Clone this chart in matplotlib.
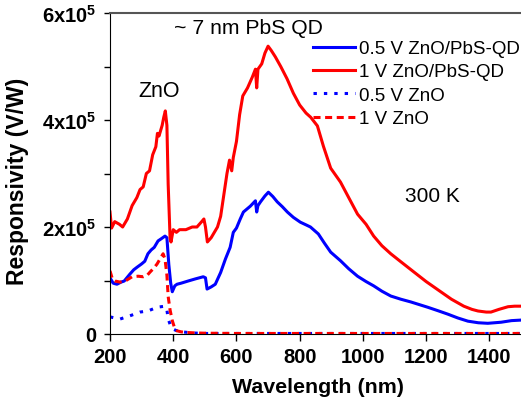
import numpy as np
import matplotlib.pyplot as plt
from matplotlib.ticker import FixedLocator, MultipleLocator

plt.rcParams['font.family'] = ['Liberation Sans', 'DejaVu Sans']
plt.rcParams['mathtext.fontset'] = 'custom'
plt.rcParams['mathtext.rm'] = 'Liberation Sans'
plt.rcParams['mathtext.bf'] = 'Liberation Sans:bold'

# 1 V ZnO/PbS-QD (units of 1e5 V/W)
wl_red = [200, 205, 215, 230, 240, 255, 270, 285, 295, 305, 315, 325, 335, 345, 350, 355, 360,
          365, 370, 375, 380, 384, 390, 393, 400, 410, 420, 440, 460, 475, 490, 497, 502, 508,
          520, 540, 550, 560, 570, 578, 585, 590, 600, 610, 620, 635, 650, 660, 664, 668, 680,
          690, 700, 710, 723, 740, 760, 780, 800, 820, 835, 856, 875, 898, 929, 955, 983, 1010,
          1034, 1060, 1088, 1120, 1161, 1200, 1246, 1280, 1319, 1345, 1364, 1390, 1405, 1430,
          1459, 1480, 1500]
r_red = [2.28, 1.98, 2.1, 2.05, 2.0, 2.15, 2.4, 2.55, 2.7, 2.75, 3.0, 3.05, 3.35, 3.5, 3.75, 3.7,
         3.8, 3.9, 4.05, 4.17, 3.9, 2.8, 1.8, 1.72, 1.95, 1.9, 1.95, 1.95, 2.0, 2.0, 2.1, 2.15,
         2.0, 1.72, 1.8, 2.0, 2.2, 2.6, 3.0, 3.25, 3.05, 3.3, 3.6, 4.1, 4.45, 4.6, 4.8, 4.95, 4.6,
         4.95, 5.05, 5.25, 5.38, 5.3, 5.18, 5.0, 4.77, 4.5, 4.28, 4.13, 4.05, 3.89, 3.51, 3.1,
         2.84, 2.55, 2.24, 2.05, 1.83, 1.65, 1.5, 1.35, 1.16, 0.98, 0.79, 0.65, 0.52, 0.46, 0.43,
         0.41, 0.41, 0.46, 0.51, 0.52, 0.52]

# 0.5 V ZnO/PbS-QD
wl_blue = [200, 210, 222, 235, 245, 263, 275, 286, 300, 310, 320, 330, 340, 352, 362, 374, 380,
           386, 392, 397, 405, 412, 425, 447, 470, 495, 502, 507, 520, 533, 550, 565, 580, 590,
           600, 612, 622, 634, 644, 660, 664, 668, 676, 690, 701, 715, 729, 745, 761, 780, 802,
           820, 834, 859, 878, 898, 929, 955, 983, 1010, 1034, 1060, 1088, 1120, 1151, 1205,
           1240, 1269, 1300, 1332, 1365, 1395, 1437, 1470, 1500]
r_blue = [1.05, 0.95, 0.93, 0.97, 0.99, 1.12, 1.2, 1.25, 1.31, 1.36, 1.5, 1.57, 1.62, 1.74, 1.78,
          1.83, 1.8, 1.3, 0.95, 0.79, 0.9, 0.93, 0.95, 0.99, 1.03, 1.07, 1.05, 0.84, 0.88, 0.93,
          1.15, 1.4, 1.62, 1.9, 1.98, 2.15, 2.28, 2.34, 2.39, 2.49, 2.28, 2.4, 2.47, 2.58, 2.65,
          2.57, 2.47, 2.38, 2.28, 2.18, 2.09, 2.04, 2.0, 1.87, 1.7, 1.53, 1.37, 1.22, 1.08, 0.98,
          0.9, 0.8, 0.71, 0.65, 0.6, 0.5, 0.43, 0.37, 0.3, 0.24, 0.21, 0.2, 0.22, 0.25, 0.26]

# 1 V ZnO
wl_red_zno = [200, 208, 216, 232, 248, 270, 289, 305, 318, 327, 340, 349, 360, 368, 374, 380,
              384, 390, 397, 405, 412, 425, 438, 470, 500, 600, 800, 1000, 1200, 1500]
r_red_zno = [1.18, 1.02, 0.99, 0.97, 0.99, 1.07, 1.08, 1.07, 1.1, 1.16, 1.24, 1.31, 1.42, 1.5,
             1.4, 1.1, 0.7, 0.45, 0.25, 0.1, 0.06, 0.04, 0.03, 0.02, 0.015, 0.01, 0.01, 0.01,
             0.01, 0.01]

# 0.5 V ZnO
wl_blue_zno = [200, 215, 232, 263, 295, 320, 349, 374, 380, 384, 392, 400, 415, 428, 460, 500,
               700, 1000, 1500]
r_blue_zno = [0.32, 0.3, 0.28, 0.34, 0.41, 0.43, 0.5, 0.52, 0.45, 0.28, 0.15, 0.09, 0.05, 0.04,
              0.02, 0.01, 0.01, 0.01, 0.01]

fig = plt.figure(figsize=(5.21, 4.02), dpi=100)
ax = fig.add_axes([110 / 521, 1 - 335 / 402, 411 / 521, 321 / 402])

ax.plot(wl_blue, np.array(r_blue) * 1e5, color='#0000ff', lw=2.2, label='0.5 V ZnO/PbS-QD')
ax.plot(wl_red, np.array(r_red) * 1e5, color='#ff0000', lw=2.2, label='1 V ZnO/PbS-QD')
ax.plot(wl_blue_zno, np.array(r_blue_zno) * 1e5, color='#0000ff', lw=2.2,
        ls=(0, (1.1, 2.3)), label='0.5 V ZnO')
ax.plot(wl_red_zno, np.array(r_red_zno) * 1e5, color='#ff0000', lw=2.2,
        ls=(0, (2.3, 1.5)), label='1 V ZnO')

ax.set_xlim(200, 1500)
ax.set_ylim(0, 6e5)
ax.xaxis.set_major_locator(MultipleLocator(200))
ax.yaxis.set_major_locator(FixedLocator([0, 2e5, 4e5, 6e5]))
ax.yaxis.set_minor_locator(FixedLocator([1e5, 3e5, 5e5]))
ax.set_yticklabels(['0', r'2x10$^\mathbf{5}$', r'4x10$^\mathbf{5}$', r'6x10$^\mathbf{5}$'])
ax.tick_params(which='both', direction='out', width=1, labelsize=14.5)
ax.tick_params(axis='x', which='major', length=5, pad=4.5)
ax.tick_params(axis='y', which='both', length=4, pad=6)
for lab in ax.get_xticklabels() + ax.get_yticklabels():
    lab.set_fontweight('bold')

ax.spines['right'].set_visible(False)
ax.spines['top'].set_color('#555555')
ax.spines['top'].set_linewidth(1.5)

ax.set_xlabel('Wavelength (nm)', fontsize=15.4, fontweight='bold')
ax.set_ylabel('Responsivity (V/W)', fontsize=16.5, fontweight='bold')
ax.xaxis.set_label_coords(0.505, -0.134)
ax.yaxis.set_label_coords(-0.197, 0.48)

ax.text(638, 5.72e5, '~ 7 nm PbS QD', fontsize=15.2, ha='center', va='center')
ax.text(355, 4.56e5, 'ZnO', fontsize=15.5, ha='center', va='center')
ax.text(1221, 2.58e5, '300 K', fontsize=15, ha='center', va='center')

ax.legend(loc='upper left', bbox_to_anchor=(313 / 521, 1 - 41 / 402),
          bbox_transform=fig.transFigure, frameon=False, fontsize=13.5,
          handlelength=2.24, handletextpad=0.21, labelspacing=0.33,
          borderpad=0, borderaxespad=0)

fig.savefig('out.png', dpi=100)
